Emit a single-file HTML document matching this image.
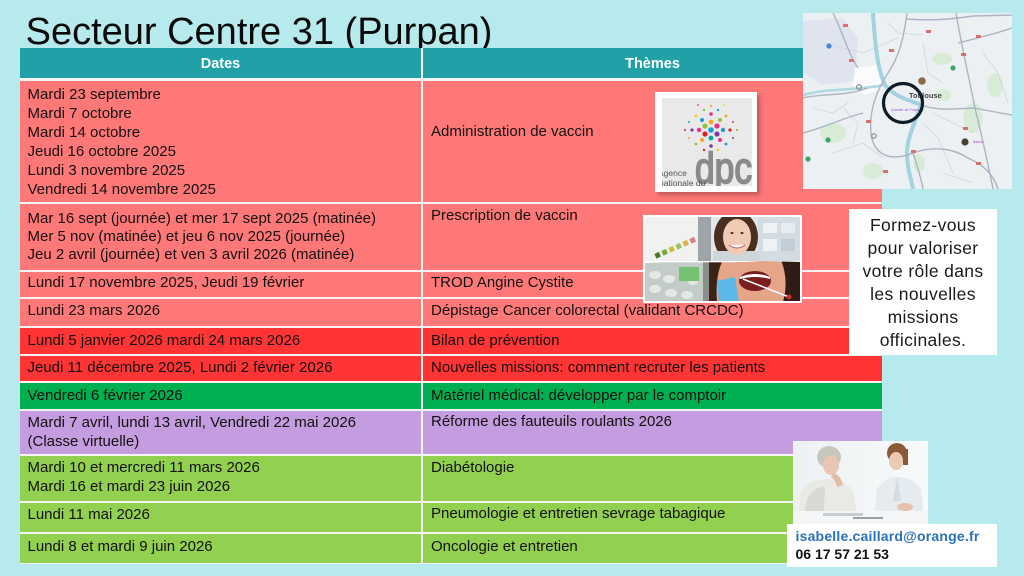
<!DOCTYPE html>
<html>
<head>
<meta charset="utf-8">
<style>
  html,body{margin:0;padding:0;}
  body{width:1024px;height:576px;position:relative;overflow:hidden;background:#b7eaec;font-family:"Liberation Sans",Arial,sans-serif;}
  .abs{position:absolute;}
  .title{left:25.6px;top:13.4px;font-size:38px;line-height:38px;color:#0a0a0a;white-space:nowrap;}
  .tbl{left:20px;top:48px;width:862px;height:516px;background:#f6f3f3;}
  .row{position:absolute;left:20px;width:862px;}
  .hd{color:#fff;font-weight:bold;font-size:14.5px;line-height:30px;text-align:center;top:48.5px;}
  .t{position:absolute;font-size:15px;line-height:18px;color:#151010;white-space:nowrap;}
  .d{left:27.5px;}
  .th{left:431px;}
  .sal{background:#ff7878;}
  .red{background:#ff3535;}
  .grn{background:#00b050;}
  .pur{background:#c49ce0;}
  .lgr{background:#92d050;}
</style>
</head>
<body>

<div class="abs title">Secteur Centre 31 (Purpan)</div>

<!-- table background (white grid lines) -->
<div class="abs tbl"></div>
<div class="row" style="top:48px;height:30px;background:#21a1a7;"></div>
<div class="row sal" style="top:80.5px;height:121.5px;"></div>
<div class="row sal" style="top:204px;height:66px;"></div>
<div class="row sal" style="top:272px;height:25px;"></div>
<div class="row sal" style="top:299px;height:27px;"></div>
<div class="row red" style="top:328px;height:26px;"></div>
<div class="row red" style="top:356px;height:25px;"></div>
<div class="row grn" style="top:383px;height:26px;"></div>
<div class="row pur" style="top:411px;height:43px;"></div>
<div class="row lgr" style="top:456px;height:45px;"></div>
<div class="row lgr" style="top:503px;height:29px;"></div>
<div class="row lgr" style="top:534px;height:29px;"></div>
<!-- column divider -->
<div class="abs" style="left:421px;top:48px;width:2px;height:516px;background:#f6f3f3;"></div>

<!-- header text -->
<div class="abs hd" style="left:20px;width:401px;">Dates</div>
<div class="abs hd" style="left:423px;width:459px;">Thèmes</div>

<!-- dates column -->
<div class="t d" style="top:85px;line-height:19px;">Mardi 23 septembre<br>Mardi 7 octobre<br>Mardi 14 octobre<br>Jeudi 16 octobre 2025<br>Lundi 3 novembre 2025<br>Vendredi 14 novembre 2025</div>
<div class="t d" style="top:210.4px;line-height:17.9px;">Mar 16 sept (journée) et mer 17 sept 2025 (matinée)<br>Mer 5 nov (matinée) et jeu 6 nov 2025 (journée)<br>Jeu 2 avril (journée) et ven 3 avril 2026 (matinée)</div>
<div class="t d" style="top:274.3px;">Lundi 17 novembre 2025, Jeudi 19 février</div>
<div class="t d" style="top:302px;">Lundi 23 mars 2026</div>
<div class="t d" style="top:331.7px;">Lundi 5 janvier 2026 mardi 24 mars 2026</div>
<div class="t d" style="top:359.3px;">Jeudi 11 décembre 2025, Lundi 2 février 2026</div>
<div class="t d" style="top:386.7px;">Vendredi 6 février 2026</div>
<div class="t d" style="top:412.7px;line-height:19.3px;">Mardi 7 avril, lundi 13 avril, Vendredi 22 mai 2026<br>(Classe virtuelle)</div>
<div class="t d" style="top:459.1px;line-height:18.4px;">Mardi 10 et mercredi 11 mars 2026<br>Mardi 16 et mardi 23 juin 2026</div>
<div class="t d" style="top:506px;">Lundi 11 mai 2026</div>
<div class="t d" style="top:537.7px;">Lundi 8 et mardi 9 juin 2026</div>

<!-- themes column -->
<div class="t th" style="top:122.7px;">Administration de vaccin</div>
<div class="t th" style="top:206.7px;">Prescription de vaccin</div>
<div class="t th" style="top:274.3px;">TROD Angine Cystite</div>
<div class="t th" style="top:302px;">Dépistage Cancer colorectal (validant CRCDC)</div>
<div class="t th" style="top:331.7px;">Bilan de prévention</div>
<div class="t th" style="top:359px;">Nouvelles missions: comment recruter les patients</div>
<div class="t th" style="top:386.5px;">Matériel médical: développer par le comptoir</div>
<div class="t th" style="top:413.3px;">Réforme des fauteuils roulants 2026</div>
<div class="t th" style="top:459.3px;">Diabétologie</div>
<div class="t th" style="top:505.3px;">Pneumologie et entretien sevrage tabagique</div>
<div class="t th" style="top:537.7px;">Oncologie et entretien</div>

<!-- map -->
<svg class="abs" style="left:803px;top:13px;" width="209" height="176" viewBox="0 0 209 176">
  <rect width="209" height="176" fill="#edf0f2"/>
  <path d="M0 8 L40 5 L55 25 L52 68 L20 72 L0 60Z" fill="#e0e4ef"/>
  <path d="M52 55 L75 52 L80 75 L62 82 L50 72Z" fill="#fbfbfb"/>
  <g fill="#d8ebd6">
    <ellipse cx="139" cy="46" rx="10" ry="6"/>
    <ellipse cx="170" cy="105" rx="10" ry="15"/>
    <ellipse cx="30" cy="120" rx="13" ry="10"/>
    <ellipse cx="70" cy="158" rx="10" ry="8"/>
    <ellipse cx="116" cy="150" rx="6" ry="9"/>
    <ellipse cx="192" cy="72" rx="8" ry="12"/>
    <ellipse cx="140" cy="82" rx="8" ry="6"/>
  </g>
  <g fill="none" stroke="#d0d6dd" stroke-width="0.8">
    <path d="M20 30 L60 40 L95 25"/>
    <path d="M120 30 L125 60 L140 70"/>
    <path d="M130 100 L150 110 L170 120"/>
    <path d="M30 140 L60 130 L80 145"/>
    <path d="M120 110 L135 125 L150 160"/>
    <path d="M180 40 L195 60 L205 90"/>
    <path d="M40 95 L55 110 L50 130"/>
    <path d="M140 160 L170 170"/>
    <path d="M85 10 L95 20 L120 22"/>
    <path d="M10 95 L30 100 L45 90"/>
  </g>
  <path d="M0 82 C25 75 50 78 82 72" fill="none" stroke="#afd8e5" stroke-width="2.5"/>
  <path d="M70 0 C72 30 74 55 82 72 C92 85 110 88 118 92 C112 110 104 125 104 140 C104 155 108 165 110 176" fill="none" stroke="#a3d2e1" stroke-width="4"/>
  <g fill="none" stroke="#aab5c3" stroke-width="1.4">
    <path d="M104 0 C100 30 95 45 85 60 C72 80 66 100 68 120 C70 140 85 150 110 140 C130 133 150 135 165 145 C180 152 190 160 195 176"/>
    <path d="M153 0 C158 30 165 60 172 95 C178 120 185 150 190 176"/>
    <path d="M104 6 C130 8 150 6 170 3 L209 2"/>
    <path d="M155 30 C175 25 195 20 209 15"/>
    <path d="M0 120 C20 115 40 105 60 100"/>
    <path d="M0 85 C20 80 40 84 65 75"/>
    <path d="M30 0 C40 20 45 40 55 55"/>
    <path d="M172 95 C185 98 198 100 209 102"/>
    <path d="M110 140 C115 155 118 165 120 176"/>
    <path d="M118 92 C135 98 150 96 172 95"/>
  </g>
  <g fill="#d87070">
    <rect x="46" y="46" width="5" height="3"/><rect x="86" y="36" width="5" height="3"/>
    <rect x="173" y="22" width="5" height="3"/><rect x="158" y="40" width="5" height="3"/>
    <rect x="63" y="107" width="5" height="3"/><rect x="108" y="137" width="5" height="3"/>
    <rect x="160" y="114" width="5" height="3"/><rect x="173" y="149" width="5" height="3"/>
    <rect x="80" y="157" width="5" height="3"/><rect x="123" y="17" width="5" height="3"/>
    <rect x="40" y="11" width="5" height="3"/>
  </g>
  <g fill="#3aa564"><circle cx="150" cy="55" r="2.6"/><circle cx="25" cy="127" r="2.6"/><circle cx="5" cy="146" r="2.6"/></g>
  <circle cx="26" cy="33" r="2.6" fill="#4a84dc"/>
  <circle cx="119" cy="68" r="3.8" fill="#8b6a4a"/>
  <circle cx="162" cy="129" r="3.6" fill="#4a4038"/>
  <circle cx="56" cy="74" r="2.4" fill="none" stroke="#777" stroke-width="1"/>
  <circle cx="71" cy="123" r="2.2" fill="none" stroke="#777" stroke-width="1"/>
  <text x="106" y="85" font-family="Liberation Sans, sans-serif" font-size="7.5" font-weight="bold" fill="#444">Toulouse</text>
  <text x="88" y="98" font-family="Liberation Sans, sans-serif" font-size="3.5" fill="#a050d0">Quartier de Purpan</text>
  <text x="170" y="130" font-family="Liberation Sans, sans-serif" font-size="3.5" fill="#a050d0">Balma</text>
  <circle cx="100" cy="90" r="19.5" fill="none" stroke="#0c1c2a" stroke-width="3.2"/>
</svg>

<!-- DPC logo -->
<div class="abs" style="left:658px;top:95px;width:102px;height:100px;background:rgba(0,0,0,0.25);filter:blur(2px);"></div>
<svg class="abs" style="left:655px;top:92px;" width="102" height="100" viewBox="0 0 102 100">
  <defs><clipPath id="ci"><rect x="7" y="6" width="90" height="88"/></clipPath></defs>
  <rect width="102" height="100" fill="#ffffff"/>
  <rect x="7" y="6" width="90" height="88" fill="#e9e9e9"/>
  <g clip-path="url(#ci)">
    <g>
      <circle cx="56" cy="38" r="2.8" fill="#1e9ad6"/>
      <circle cx="62" cy="34" r="2.6" fill="#e8308a"/>
      <circle cx="50" cy="34" r="2.6" fill="#8cc63f"/>
      <circle cx="62" cy="42" r="2.6" fill="#7b3f98"/>
      <circle cx="50" cy="42" r="2.6" fill="#e31e24"/>
      <circle cx="56" cy="30" r="2.4" fill="#f7a823"/>
      <circle cx="56" cy="46" r="2.4" fill="#00a99d"/>
      <circle cx="44" cy="38" r="2.2" fill="#e8308a"/>
      <circle cx="68" cy="38" r="2.2" fill="#1e9ad6"/>
      <circle cx="47" cy="28" r="2" fill="#1e9ad6"/>
      <circle cx="65" cy="28" r="2" fill="#8cc63f"/>
      <circle cx="47" cy="48" r="2" fill="#f7a823"/>
      <circle cx="65" cy="48" r="2" fill="#e8308a"/>
      <circle cx="56" cy="22" r="1.8" fill="#e8308a"/>
      <circle cx="56" cy="54" r="1.8" fill="#7b3f98"/>
      <circle cx="37" cy="38" r="1.6" fill="#7b3f98"/>
      <circle cx="75" cy="38" r="1.6" fill="#e31e24"/>
      <circle cx="41" cy="24" r="1.4" fill="#f2d200"/>
      <circle cx="71" cy="24" r="1.4" fill="#f7a823"/>
      <circle cx="41" cy="52" r="1.4" fill="#8cc63f"/>
      <circle cx="71" cy="52" r="1.4" fill="#1e9ad6"/>
      <circle cx="49" cy="18" r="1.2" fill="#8cc63f"/>
      <circle cx="63" cy="18" r="1.2" fill="#1e9ad6"/>
      <circle cx="49" cy="58" r="1.2" fill="#e31e24"/>
      <circle cx="63" cy="58" r="1.2" fill="#f2d200"/>
      <circle cx="30" cy="38" r="1.1" fill="#e8308a"/>
      <circle cx="82" cy="38" r="1.1" fill="#8cc63f"/>
      <circle cx="56" cy="14" r="1.1" fill="#f7a823"/>
      <circle cx="34" cy="30" r="1" fill="#1e9ad6"/>
      <circle cx="78" cy="30" r="1" fill="#e8308a"/>
      <circle cx="34" cy="46" r="1" fill="#f7a823"/>
      <circle cx="78" cy="46" r="1" fill="#7b3f98"/>
      <circle cx="43" cy="13" r="0.9" fill="#e8308a"/>
      <circle cx="69" cy="13" r="0.9" fill="#f2d200"/>
    </g>
    <text x="40" y="91" font-family="Liberation Sans, sans-serif" font-size="44" fill="#8a8a8a" stroke="#8a8a8a" stroke-width="1.8" textLength="57" lengthAdjust="spacingAndGlyphs">dpc</text>
    <text x="3" y="84" font-family="Liberation Sans, sans-serif" font-size="8.5" fill="#555">Agence</text>
    <text x="4" y="94" font-family="Liberation Sans, sans-serif" font-size="8.5" fill="#555">nationale du</text>
  </g>
</svg>

<!-- middle photo collage -->
<svg class="abs" style="left:643px;top:215px;" width="159" height="88" viewBox="0 0 159 88">
  <rect width="159" height="88" fill="#ffffff"/>
  <defs>
    <clipPath id="ct"><rect x="2" y="2" width="155" height="44"/></clipPath>
    <clipPath id="cb"><path d="M2 48 C40 46 80 49 120 46 L157 47 L157 86 L2 86Z"/></clipPath>
  </defs>
  <g clip-path="url(#ct)">
    <rect x="2" y="2" width="155" height="44" fill="#e2e7ea"/>
    <rect x="2" y="2" width="54" height="44" fill="#f1f1ef"/>
    <rect x="55" y="2" width="13" height="44" fill="#9ea4a8"/>
    <rect x="115" y="2" width="42" height="44" fill="#d3dce2"/>
    <rect x="120" y="8" width="14" height="10" fill="#eef2f4"/>
    <rect x="138" y="8" width="14" height="10" fill="#e6ecef"/>
    <rect x="120" y="24" width="14" height="12" fill="#eef2f4"/>
    <rect x="138" y="24" width="14" height="12" fill="#c4ced6"/>
    <g>
      <rect x="12" y="38" width="5" height="5" fill="#4c7a2c" transform="rotate(-25 14 40)"/>
      <rect x="19" y="35" width="5" height="5" fill="#7aa83a" transform="rotate(-25 21 37)"/>
      <rect x="26" y="32" width="5" height="5" fill="#c8c040" transform="rotate(-25 28 34)"/>
      <rect x="33" y="29" width="5" height="5" fill="#9ac060" transform="rotate(-25 35 31)"/>
      <rect x="40" y="26" width="5" height="5" fill="#e0b050" transform="rotate(-25 42 28)"/>
      <rect x="47" y="23" width="5" height="5" fill="#d88080" transform="rotate(-25 49 25)"/>
    </g>
    <ellipse cx="93" cy="22" rx="22" ry="26" fill="#4a2e20"/>
    <rect x="70" y="36" width="46" height="12" fill="#cfd6da"/>
    <ellipse cx="94" cy="22" rx="14" ry="18" fill="#efcab4"/>
    <path d="M86 30 Q94 36 102 30" fill="#ffffff" stroke="#b06060" stroke-width="1"/>
    <ellipse cx="89" cy="18" rx="1.5" ry="1" fill="#3a2a20"/>
    <ellipse cx="99" cy="18" rx="1.5" ry="1" fill="#3a2a20"/>
  </g>
  <g clip-path="url(#cb)">
    <rect x="2" y="45" width="155" height="42" fill="#c3ccc6"/>
    <g fill="#e4e9e6">
      <ellipse cx="12" cy="60" rx="6" ry="4"/><ellipse cx="26" cy="64" rx="6" ry="4"/>
      <ellipse cx="12" cy="74" rx="6" ry="4"/><ellipse cx="28" cy="78" rx="6" ry="4"/>
      <ellipse cx="44" cy="80" rx="6" ry="4"/><ellipse cx="50" cy="66" rx="5" ry="4"/>
    </g>
    <rect x="36" y="52" width="20" height="14" fill="#74c272"/>
    <rect x="60" y="45" width="10" height="42" fill="#8a8f8c"/>
    <rect x="66" y="45" width="80" height="42" fill="#e4a588"/>
    <path d="M66 45 L80 45 Q72 60 74 87 L66 87Z" fill="#3a2418"/>
    <path d="M138 45 L157 45 L157 87 L140 87 Q146 65 138 45Z" fill="#2e1c14"/>
    <ellipse cx="112" cy="66" rx="16" ry="10" fill="#7a1e1e"/>
    <path d="M97 62 Q112 56 127 62 L127 64 Q112 60 97 64Z" fill="#ffffff"/>
    <path d="M74 66 L92 62 L96 87 L76 87Z" fill="#5cb8e8"/>
    <line x1="100" y1="64" x2="146" y2="82" stroke="#ffffff" stroke-width="1.6"/>
    <circle cx="146" cy="82" r="2.5" fill="#d03030"/>
  </g>
</svg>

<!-- text box -->
<div class="abs" style="left:849px;top:209px;width:148px;height:146px;background:#ffffff;"></div>
<div class="abs" style="left:849px;top:213.5px;width:148px;text-align:center;font-size:17.5px;line-height:23.1px;letter-spacing:0.35px;color:#1a1a1a;">Formez-vous<br>pour valoriser<br>votre rôle dans<br>les nouvelles<br>missions<br>officinales.</div>

<!-- bottom photo -->
<svg class="abs" style="left:793px;top:441px;" width="135" height="84" viewBox="0 0 135 84">
  <defs>
    <linearGradient id="bg" x1="0" y1="0" x2="1" y2="0">
      <stop offset="0" stop-color="#eef1f3"/><stop offset="1" stop-color="#f7f9fa"/>
    </linearGradient>
  </defs>
  <rect width="135" height="84" fill="url(#bg)"/>
  <!-- left woman -->
  <path d="M4 84 L8 52 Q14 38 34 38 Q52 38 60 50 L66 84Z" fill="#e9e9e6"/>
  <path d="M10 84 L14 58 Q20 46 32 46 L30 84Z" fill="#d8d8d4"/>
  <ellipse cx="36" cy="16" rx="12" ry="11" fill="#c8c7bf"/>
  <ellipse cx="38" cy="24" rx="8" ry="10" fill="#e8c6b2"/>
  <path d="M40 32 Q48 34 50 44 L44 46 Q42 38 38 36Z" fill="#e3bca6"/>
  <!-- right woman -->
  <path d="M80 84 L84 48 Q92 36 104 36 Q120 36 128 48 L132 84Z" fill="#e6ebf0"/>
  <path d="M104 36 L100 60 L108 60Z" fill="#d3dbe3"/>
  <ellipse cx="104" cy="12" rx="10" ry="10" fill="#8a5a38"/>
  <rect x="110" y="8" width="5" height="16" fill="#8a5a38"/>
  <ellipse cx="103" cy="20" rx="7" ry="9" fill="#ecc9b3"/>
  <ellipse cx="112" cy="66" rx="8" ry="4" fill="#e8c2ac"/>
  <!-- table -->
  <rect x="0" y="70" width="135" height="14" fill="#f4f5f6"/>
  <rect x="30" y="72" width="40" height="3" fill="#c8ccd0"/>
  <rect x="60" y="76" width="30" height="2" fill="#9aa0a5"/>
</svg>

<!-- contact box -->
<div class="abs" style="left:787px;top:524px;width:210px;height:43px;background:#ffffff;"></div>
<div class="abs" style="left:795.5px;top:527px;font-size:14px;line-height:18px;font-weight:bold;letter-spacing:0.2px;color:#2a72b8;white-space:nowrap;">isabelle.caillard@orange.fr</div>
<div class="abs" style="left:795.5px;top:545.3px;font-size:14px;line-height:18px;font-weight:bold;color:#111;white-space:nowrap;">06 17 57 21 53</div>

</body>
</html>
